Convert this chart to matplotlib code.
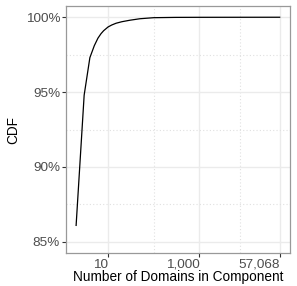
import numpy as np
import matplotlib.pyplot as plt
from matplotlib.ticker import FixedLocator, FuncFormatter

plt.rcParams['font.family'] = ['Liberation Sans', 'DejaVu Sans']

# CDF of component size (number of domains)
domains = [2, 3, 4, 5, 6, 7, 8, 10, 12, 15, 20, 30, 50, 100, 300, 1000, 57068]
cdf_pct = [86.1, 94.8, 97.3, 98.1, 98.6, 98.9, 99.1, 99.35, 99.48, 99.6,
           99.7, 99.8, 99.9, 99.97, 99.99, 99.995, 100.0]

x_ticks = [10, 1000, 57068]
y_ticks = [85, 90, 95, 100]

fig = plt.figure(figsize=(2.97, 2.86), dpi=100)
ax = fig.add_axes([0.222, 0.115, 0.754, 0.864])

ax.plot(domains, cdf_pct, color='black', lw=0.9, zorder=3)
ax.set_xscale('log')

lx = np.log10(domains)
pad = 0.05 * (lx.max() - lx.min())
ax.set_xlim(10 ** (lx.min() - pad), 10 ** (lx.max() + pad))
# y scale limits 85-100 with ggplot-like 5% expansion
ax.set_ylim(85 - 0.75, 100 + 0.75)

ax.xaxis.set_major_locator(FixedLocator(x_ticks))
ax.xaxis.set_major_formatter(FuncFormatter(lambda v, p: f'{v:,.0f}'))
ax.xaxis.set_minor_locator(FixedLocator([100, 10 ** ((3 + np.log10(57068)) / 2)]))
ax.xaxis.set_minor_formatter(FuncFormatter(lambda v, p: ''))
ax.yaxis.set_major_locator(FixedLocator(y_ticks))
ax.yaxis.set_major_formatter(FuncFormatter(lambda v, p: f'{v:.0f}%'))
ax.yaxis.set_minor_locator(FixedLocator([87.5, 92.5, 97.5]))

ax.grid(which='major', color='#EBEBEB', lw=1.0)
ax.grid(which='minor', color='#E0E0E0', lw=0.8, ls=(0, (1, 2)))
ax.set_axisbelow(True)

for s in ax.spines.values():
    s.set_color('#999999')
    s.set_linewidth(0.9)

ax.tick_params(which='major', length=2.7, width=0.8, color='#333333',
               labelsize=9.7, labelcolor='#4D4D4D', pad=1.5)
ax.tick_params(which='minor', length=0)
for lab in ax.get_xticklabels():
    lab.set_horizontalalignment('right')

ax.set_xlabel('Number of Domains in Component', fontsize=9.8, labelpad=-1)
ax.set_ylabel('CDF', fontsize=9.8, labelpad=4)

fig.savefig('out.png', dpi=100)
